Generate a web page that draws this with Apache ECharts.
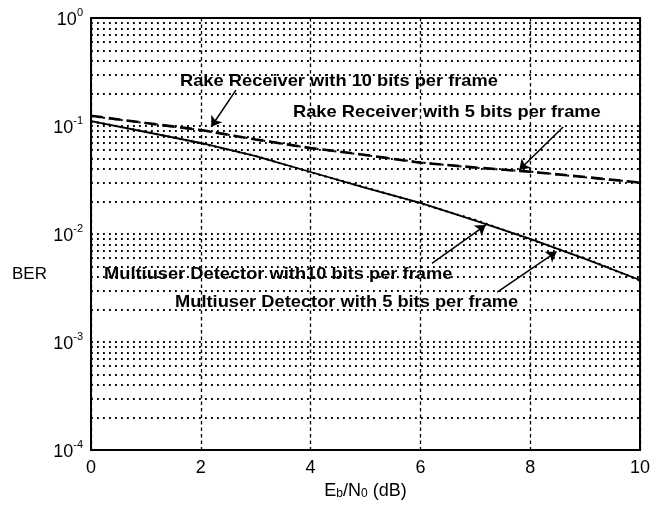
<!DOCTYPE html>
<html>
<head>
<meta charset="utf-8">
<script src="https://cdn.jsdelivr.net/npm/echarts@6/dist/echarts.min.js"></script>
<style>
html,body{margin:0;padding:0;background:#fff;}
#chart{width:662px;height:506px;}
</style>
</head>
<body>
<div id="chart"></div>
<script>
// ---- data ----
const ebn0 = [0, 1, 2, 3, 4, 5, 6, 7, 8, 9, 10];
const rake5 = [0.1245, 0.1066, 0.0918, 0.0750, 0.0625, 0.0539, 0.0457, 0.0413, 0.0377, 0.0337, 0.0299];
const rake10 = [0.1235, 0.1060, 0.0915, 0.0752, 0.0622, 0.0536, 0.0460, 0.0410, 0.0378, 0.0335, 0.0300];
const mud5 = [0.1110, 0.0880, 0.0696, 0.0525, 0.0375, 0.0267, 0.0194, 0.0133, 0.0090, 0.00589, 0.00375];
const mud10 = [0.1105, 0.0885, 0.0690, 0.0528, 0.0372, 0.0270, 0.0192, 0.0135, 0.0089, 0.00595, 0.00370];
const xTicks = [0, 2, 4, 6, 8, 10];
const yDecades = [1e-4, 1e-3, 1e-2, 1e-1];
const yMultipliers = [1, 2, 3, 4, 5, 6, 7, 8, 9];
const labels = [
  'Rake Receiver with 10 bits per frame',
  'Rake Receiver with 5 bits per frame',
  'Multiuser Detector with10 bits per frame',
  'Multiuser Detector with 5 bits per frame'
];
// arrows: [tailX, tailY, headX, headY] in data units
const arrows = [
  [2.64, 0.215, 2.19, 0.0985],
  [8.60, 0.098, 7.80, 0.0391],
  [6.21, 0.00535, 7.19, 0.0121],
  [7.40, 0.0029, 8.48, 0.00686]
];

const FONT = '"Liberation Sans", Arial, Helvetica, sans-serif';
const pairs = arr => ebn0.map((x, i) => [x, arr[i]]);

const gridValues = [];
yDecades.forEach(d => yMultipliers.forEach(m => gridValues.push(m * d)));

const chart = echarts.init(document.getElementById('chart'), null, {renderer: 'canvas'});
const option = {
  animation: false,
  backgroundColor: '#fff',
  grid: {left: 91, right: 22, top: 18, bottom: 56, show: true, borderColor: '#000', borderWidth: 2, backgroundColor: 'transparent'},
  xAxis: {
    type: 'value', min: 0, max: 10, interval: 2,
    axisLine: {show: true, lineStyle: {color: '#000', width: 2}},
    axisTick: {show: false},
    axisLabel: {fontSize: 18, color: '#000', fontFamily: FONT, margin: 9,
      formatter: v => xTicks.includes(v) ? String(v) : ''},
    splitLine: {show: true, lineStyle: {color: '#000', type: [3.5, 3], width: 1.3}},
    name: '{t|E}{s|b}{t|/N}{s|0}{t| (dB)}',
    nameLocation: 'middle', nameGap: 21,
    nameTextStyle: {
      rich: {
        t: {fontSize: 18, fontFamily: FONT, color: '#000', lineHeight: 22, verticalAlign: 'bottom'},
        s: {fontSize: 12, fontFamily: FONT, color: '#000', lineHeight: 12, verticalAlign: 'bottom'}
      }
    }
  },
  yAxis: {
    type: 'log', logBase: 10, min: 1e-4, max: 1,
    axisLine: {show: true, lineStyle: {color: '#000', width: 2}},
    axisTick: {show: false},
    splitLine: {show: false},
    axisLabel: {
      margin: 8,
      formatter: v => '{b|10}{e|' + Math.round(Math.log10(v)) + '}',
      rich: {
        b: {fontSize: 18, fontFamily: FONT, color: '#000', lineHeight: 22, verticalAlign: 'bottom'},
        e: {fontSize: 11, fontFamily: FONT, color: '#000', lineHeight: 11, verticalAlign: 'top'}
      }
    }
  },
  graphic: [
    {type: 'text', x: 180, y: 81, scaleX: 1.075, style: {text: labels[0], font: 'bold 17px ' + FONT, fill: '#000', align: 'left', verticalAlign: 'middle'}},
    {type: 'text', x: 293, y: 112, scaleX: 1.075, style: {text: labels[1], font: 'bold 17px ' + FONT, fill: '#000', align: 'left', verticalAlign: 'middle'}},
    {type: 'text', x: 104, y: 274, scaleX: 1.075, style: {text: labels[2], font: 'bold 17px ' + FONT, fill: '#000', align: 'left', verticalAlign: 'middle'}},
    {type: 'text', x: 175, y: 302, scaleX: 1.075, style: {text: labels[3], font: 'bold 17px ' + FONT, fill: '#000', align: 'left', verticalAlign: 'middle'}},
    {type: 'text', x: 12, y: 274, style: {text: 'BER', font: '17px ' + FONT, fill: '#000', align: 'left', verticalAlign: 'middle'}}
  ],
  series: [
    {
      name: 'grid', type: 'line', data: [], silent: true, z: 1,
      markLine: {
        silent: true, symbol: ['none', 'none'], z: 1, precision: 10,
        label: {show: false},
        lineStyle: {color: '#000', type: [1.8, 4.2], width: 1.8},
        emphasis: {disabled: true},
        data: gridValues.map(v => ({yAxis: v}))
      }
    },
    {name: 'Rake 5', type: 'line', data: pairs(rake5), symbol: 'none', z: 3,
      lineStyle: {color: '#000', width: 2.6, type: [12, 6]}},
    {name: 'Rake 10', type: 'line', data: pairs(rake10), symbol: 'none', z: 4,
      lineStyle: {color: '#000', width: 2, type: [2, 4]}},
    {name: 'MUD 5', type: 'line', data: pairs(mud5), symbol: 'none', z: 3,
      lineStyle: {color: '#000', width: 1.8, type: 'solid'}},
    {name: 'MUD 10', type: 'line', data: pairs(mud10), symbol: 'none', z: 4,
      lineStyle: {color: '#000', width: 2.2, type: [2, 4]},
      markLine: {
        silent: true, symbol: ['none', 'arrow'], symbolSize: 10, z: 6, precision: 10,
        label: {show: false},
        lineStyle: {color: '#000', type: 'solid', width: 1.5},
        itemStyle: {color: '#000'},
        emphasis: {disabled: true},
        data: arrows.map(a => [{coord: [a[0], a[1]]}, {coord: [a[2], a[3]]}])
      }}
  ]
};
chart.setOption(option);
</script>
</body>
</html>
